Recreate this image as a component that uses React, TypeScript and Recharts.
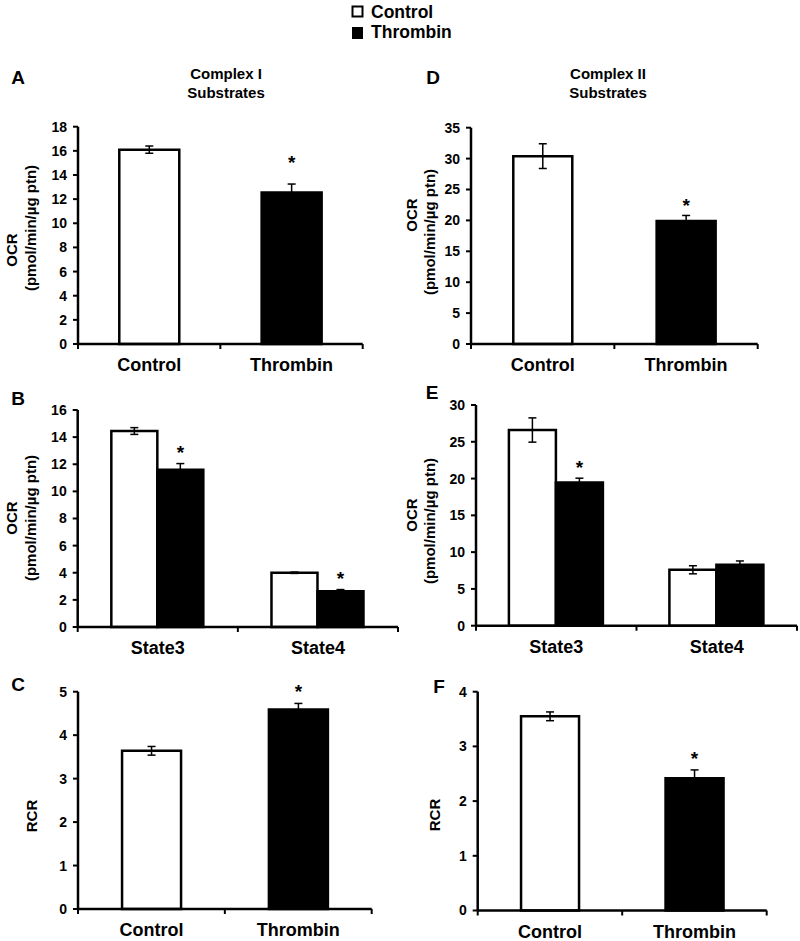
import { Bar, BarChart, Cell, ErrorBar, LabelList, XAxis, YAxis } from "recharts"

const FONT = "'Liberation Sans', Arial, Helvetica, sans-serif"

const groups = ["Control", "Thrombin"]
const states = ["State3", "State4"]

// A - Complex I substrates, OCR
const aMean = [16.1, 12.55]
const aSem = [0.3, 0.7]
const aStar = [false, true]
const aTicks = [0, 2, 4, 6, 8, 10, 12, 14, 16, 18]

// D - Complex II substrates, OCR
const dMean = [30.4, 19.9]
const dSem = [2.0, 0.9]
const dStar = [false, true]
const dTicks = [0, 5, 10, 15, 20, 25, 30, 35]

// B - Complex I, state 3 / state 4
const bControl = [14.45, 4.0]
const bControlSem = [0.25, 0.05]
const bThrombin = [11.6, 2.64]
const bThrombinSem = [0.45, 0.12]
const bStar = [true, true]
const bTicks = [0, 2, 4, 6, 8, 10, 12, 14, 16]

// E - Complex II, state 3 / state 4
const eControl = [26.6, 7.6]
const eControlSem = [1.65, 0.55]
const eThrombin = [19.45, 8.3]
const eThrombinSem = [0.6, 0.5]
const eStar = [true, false]
const eTicks = [0, 5, 10, 15, 20, 25, 30]

// C - Complex I RCR
const cMean = [3.64, 4.59]
const cSem = [0.1, 0.14]
const cStar = [false, true]
const cTicks = [0, 1, 2, 3, 4, 5]

// F - Complex II RCR
const fMean = [3.55, 2.42]
const fSem = [0.08, 0.15]
const fStar = [false, true]
const fTicks = [0, 1, 2, 3, 4]

type Frame = {
  left: number
  top: number
  width: number
  height: number
  x0: number
  x1: number
  y0: number
  y1: number
}

const frames: Record<string, Frame> = {
  A: { left: 0, top: 100, width: 400, height: 280, x0: 78, x1: 362.7, y0: 126.7, y1: 344 },
  D: { left: 400, top: 100, width: 400, height: 280, x0: 471, x1: 757.7, y0: 127.7, y1: 344 },
  B: { left: 0, top: 380, width: 400, height: 285, x0: 77.7, x1: 398, y0: 410, y1: 627 },
  E: { left: 400, top: 380, width: 400, height: 285, x0: 476, x1: 797, y0: 405, y1: 625.7 },
  C: { left: 0, top: 665, width: 400, height: 276, x0: 78, x1: 371.7, y0: 691.7, y1: 909 },
  F: { left: 400, top: 665, width: 400, height: 276, x0: 477.7, x1: 766.7, y0: 691.7, y1: 910.5 },
}

const singleRows = (mean: number[], sem: number[], star: boolean[]) =>
  groups.map((name, i) => ({ name, mean: mean[i], sem: sem[i], star: star[i] }))

const pairRows = (
  control: number[],
  controlSem: number[],
  thrombin: number[],
  thrombinSem: number[],
  star: boolean[]
) =>
  states.map((name, i) => ({
    name,
    control: control[i],
    controlSem: controlSem[i],
    thrombin: thrombin[i],
    thrombinSem: thrombinSem[i],
    star: star[i],
  }))

function CategoryTick(props: any) {
  const { x, y, payload, index, band, count } = props
  return (
    <g>
      <line x1={x - band / 2} x2={x - band / 2} y1={y} y2={y + 5} stroke="#000" strokeWidth={2} />
      {index === count - 1 && (
        <line x1={x + band / 2} x2={x + band / 2} y1={y} y2={y + 5} stroke="#000" strokeWidth={2} />
      )}
      <text
        x={x}
        y={y + 27}
        textAnchor="middle"
        fontSize={18}
        fontWeight="bold"
        fontFamily={FONT}
        fill="#000"
      >
        {payload.value}
      </text>
    </g>
  )
}

// asterisk above the error bar of a flagged bar
function starLabel(rows: any[], valueKey: string, semKey: string, gap: number) {
  return (p: any) => {
    const r = rows[p.index]
    if (!r || !r.star) return null
    const vb = p.viewBox ?? p
    const h = Math.abs(vb.height)
    const top = Math.min(vb.y, vb.y + vb.height)
    const unit = h / r[valueKey]
    const errTop = top - r[semKey] * unit
    return (
      <text
        x={vb.x + vb.width / 2}
        y={errTop - gap + 10}
        textAnchor="middle"
        fontSize={19}
        fontWeight="bold"
        fontFamily={FONT}
        fill="#000"
      >
        *
      </text>
    )
  }
}

function Panel({ frame, data, ticks, gap, children }: any) {
  const { left, top, width, height, x0, x1, y0, y1 } = frame
  const band = (x1 - x0) / data.length
  return (
    <div style={{ position: "absolute", left, top, width, height }}>
      <BarChart
        width={width}
        height={height}
        data={data}
        margin={{ top: y0 - top, right: left + width - x1, bottom: 0, left: 0 }}
        barCategoryGap={gap}
        barGap={0}
      >
        <XAxis
          dataKey="name"
          height={top + height - y1}
          interval={0}
          axisLine={{ stroke: "#000", strokeWidth: 2.5 }}
          tickLine={false}
          tickSize={0}
          tickMargin={0}
          tick={<CategoryTick band={band} count={data.length} />}
        />
        <YAxis
          width={x0 - left}
          domain={[0, ticks[ticks.length - 1]]}
          ticks={ticks}
          interval={0}
          axisLine={{ stroke: "#000", strokeWidth: 2.5 }}
          tickLine={{ stroke: "#000", strokeWidth: 2 }}
          tickSize={5}
          tickMargin={6}
          tick={{ fill: "#000", fontSize: 14, fontWeight: "bold", fontFamily: FONT }}
        />
        {children}
      </BarChart>
    </div>
  )
}

function SinglePanel({ frame, mean, sem, star, ticks, gap, starGap }: any) {
  const rows = singleRows(mean, sem, star)
  return (
    <Panel frame={frame} data={rows} ticks={ticks} gap={gap}>
      <Bar dataKey="mean" stroke="#000" strokeWidth={2.5} isAnimationActive={false}>
        {rows.map((_, i) => (
          <Cell key={i} fill={i === 0 ? "#fff" : "#000"} />
        ))}
        <ErrorBar dataKey="sem" width={4} stroke="#000" strokeWidth={1.5} direction="y" />
        <LabelList dataKey="mean" content={starLabel(rows, "mean", "sem", starGap)} />
      </Bar>
    </Panel>
  )
}

function PairPanel({ frame, rows, ticks, gap, starGap }: any) {
  return (
    <Panel frame={frame} data={rows} ticks={ticks} gap={gap}>
      <Bar dataKey="control" fill="#fff" stroke="#000" strokeWidth={2.5} isAnimationActive={false}>
        <ErrorBar dataKey="controlSem" width={4} stroke="#000" strokeWidth={1.5} direction="y" />
      </Bar>
      <Bar dataKey="thrombin" fill="#000" stroke="#000" strokeWidth={2.5} isAnimationActive={false}>
        <ErrorBar dataKey="thrombinSem" width={4} stroke="#000" strokeWidth={1.5} direction="y" />
        <LabelList dataKey="thrombin" content={starLabel(rows, "thrombin", "thrombinSem", starGap)} />
      </Bar>
    </Panel>
  )
}

function VText({ x, y, size, children }: any) {
  return (
    <text
      transform={`translate(${x},${y}) rotate(-90)`}
      textAnchor="middle"
      dominantBaseline="central"
      fontSize={size}
      fontWeight="bold"
      fontFamily={FONT}
      fill="#000"
    >
      {children}
    </text>
  )
}

function BoldText({ x, y, size, anchor = "middle", children }: any) {
  return (
    <text x={x} y={y} textAnchor={anchor} fontSize={size} fontWeight="bold" fontFamily={FONT} fill="#000">
      {children}
    </text>
  )
}

export default function App() {
  return (
    <div
      style={{
        position: "absolute",
        left: 0,
        top: 0,
        width: 800,
        height: 941,
        background: "#fff",
        overflow: "hidden",
      }}
    >
      <SinglePanel frame={frames.A} mean={aMean} sem={aSem} star={aStar} ticks={aTicks} gap="29%" starGap={25} />
      <SinglePanel frame={frames.D} mean={dMean} sem={dSem} star={dStar} ticks={dTicks} gap="29.5%" starGap={13} />
      <PairPanel
        frame={frames.B}
        rows={pairRows(bControl, bControlSem, bThrombin, bThrombinSem, bStar)}
        ticks={bTicks}
        gap="21%"
        starGap={15}
      />
      <PairPanel
        frame={frames.E}
        rows={pairRows(eControl, eControlSem, eThrombin, eThrombinSem, eStar)}
        ticks={eTicks}
        gap="20.5%"
        starGap={14}
      />
      <SinglePanel frame={frames.C} mean={cMean} sem={cSem} star={cStar} ticks={cTicks} gap="30%" starGap={15} />
      <SinglePanel frame={frames.F} mean={fMean} sem={fSem} star={fStar} ticks={fTicks} gap="30%" starGap={15} />

      <svg
        width={800}
        height={941}
        style={{ position: "absolute", left: 0, top: 0, pointerEvents: "none" }}
      >
        {/* legend */}
        <rect x={352.5} y={6.5} width={10} height={10} fill="#fff" stroke="#000" strokeWidth={2} />
        <rect x={352} y={27} width={11} height={12} fill="#000" />
        <BoldText x={371} y={17.5} size={17.5} anchor="start">Control</BoldText>
        <BoldText x={371} y={38} size={17.5} anchor="start">Thrombin</BoldText>

        {/* panel letters */}
        <BoldText x={18} y={84} size={19}>A</BoldText>
        <BoldText x={433} y={84} size={19}>D</BoldText>
        <BoldText x={18} y={405} size={19}>B</BoldText>
        <BoldText x={432} y={399} size={19}>E</BoldText>
        <BoldText x={18} y={691} size={19}>C</BoldText>
        <BoldText x={439} y={693} size={19}>F</BoldText>

        {/* titles */}
        <BoldText x={226} y={78.5} size={15}>Complex I</BoldText>
        <BoldText x={226} y={97.5} size={15}>Substrates</BoldText>
        <BoldText x={608} y={78.5} size={15}>Complex II</BoldText>
        <BoldText x={608} y={97.5} size={15}>Substrates</BoldText>

        {/* y-axis titles */}
        <VText x={11} y={250} size={15}>OCR</VText>
        <VText x={30} y={228} size={15}>(pmol/min/µg ptn)</VText>
        <VText x={411.5} y={215} size={15}>OCR</VText>
        <VText x={429.5} y={232} size={15}>(pmol/min/µg ptn)</VText>
        <VText x={11} y={518} size={15}>OCR</VText>
        <VText x={30} y={518} size={15}>(pmol/min/µg ptn)</VText>
        <VText x={411} y={515} size={15}>OCR</VText>
        <VText x={429} y={521} size={15}>(pmol/min/µg ptn)</VText>
        <VText x={31} y={816} size={15}>RCR</VText>
        <VText x={434} y={815} size={15}>RCR</VText>
      </svg>
    </div>
  )
}
